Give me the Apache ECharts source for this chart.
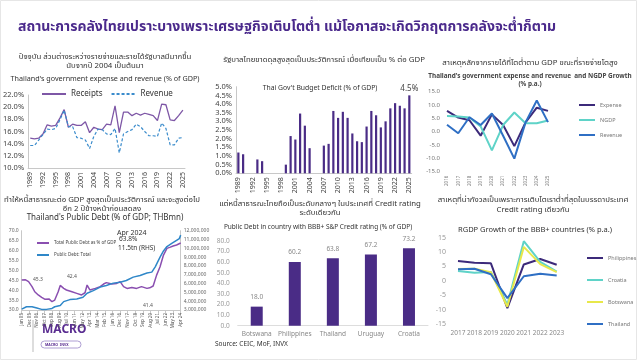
<!DOCTYPE html>
<html><head><meta charset="utf-8">
<script src="https://cdn.jsdelivr.net/npm/echarts@6/dist/echarts.min.js"></script>
<style>html,body{margin:0;padding:0;background:#fff}#c{width:640px;height:360px}</style>
</head><body><div id="c"></div>
<script>
const FONT = "'Noto Sans','Noto Sans Thai','Open Sans',sans-serif";

// ---------- Panel 1: expense & revenue (% of GDP)
const yearsLong = ['1989','1990','1991','1992','1993','1994','1995','1996','1997','1998','1999','2000','2001','2002','2003','2004','2005','2006','2007','2008','2009','2010','2011','2012','2013','2014','2015','2016','2017','2018','2019','2020','2021','2022','2023','2024','2025'];
const receipts = [14.9,14.8,14.9,15.6,17.1,16.9,17.0,18.2,19.6,16.7,17.2,17.0,17.0,17.6,15.8,16.7,16.4,16.3,17.2,17.1,20.2,15.8,19.2,19.2,18.6,19.0,18.7,19.0,18.8,18.6,17.8,20.5,20.4,17.9,17.8,18.6,19.5];
const revenueGdp = [13.7,13.7,14.6,15.5,16.4,16.3,16.5,17.9,19.5,16.8,16.8,15.0,14.9,14.6,13.2,15.2,16.4,16.3,15.6,15.5,16.5,12.5,15.6,16.0,16.3,17.2,16.8,16.0,15.3,15.3,15.2,17.4,16.5,13.8,13.8,14.9,15.0];

// ---------- Panel 2: budget deficit (% of GDP)
const deficit = [1.2,1.1,0,0,0.8,0.7,0,0,0,0,0.5,2.15,1.95,3.45,2.75,1.45,0,0,1.6,1.7,3.6,3.2,3.55,3.2,2.3,1.85,1.8,2.7,3.6,3.35,2.65,3.0,3.75,4.05,3.9,3.75,4.5];

// ---------- Panel 3: growth (% p.a.)
const growthYears = ['2016','2017','2018','2019','2020','2021','2022','2023','2024','2025'];
const expenseG = [7.8,5.3,4.3,-1.5,6.5,2.5,-5.4,3.5,9.0,7.8];
const ngdpG = [5.9,5.7,5.3,2.0,-7.0,2.5,7.2,3.2,3.2,4.2];
const revenueG = [2.6,-0.6,5.4,2.5,6.8,-1.5,-10.1,3.5,11.7,3.6];

// ---------- Panel 4: public debt (monthly, Jan 05 - Apr 24)
const monthNames = ['Jan','Feb','Mar','Apr','May','Jun','Jul','Aug','Sep','Oct','Nov','Dec'];
const debtStart = 2005, debtMonthCount = 232;
const debtPctIdx = [0,5,10,15,19,24,29,34,36,40,44,48,53,56,61,65,73,80,87,92,95,99,107,114,119,123,131,138,143,148,153,160,167,174,182,186,191,196,201,206,211,215,220,225,231];
const debtPctVal = [45.1,45.3,44.3,41.8,39.2,37.6,36.4,35.4,36.4,35.5,34.2,35.0,39.2,42.4,40.9,40.1,39.2,38.4,37.6,38.7,42.6,40.1,40.9,41.8,43.1,43.8,43.1,43.4,44.3,41.8,40.9,41.4,40.9,41.8,40.9,41.2,42.1,47.6,51.8,57.7,61.1,61.6,62.3,62.8,63.8];
const debtTotIdx = [0,7,15,22,29,36,44,48,56,61,70,80,89,95,104,114,123,133,143,152,162,172,182,189,194,201,206,211,218,225,229,231];
const debtTotVal = [3100000,3370000,3370000,3220000,3070000,3070000,3180000,3370000,3500000,3950000,4180000,4250000,4440000,4900000,5200000,5600000,5780000,6050000,6160000,6350000,6730000,6920000,7190000,7300000,7900000,9000000,9700000,10200000,10550000,10900000,11100000,11500000];

// ---------- Panel 5: BBB+ public debt
const countries = ['Botswana','Philippines','Thailand','Uruguay','Croatia'];
const debtBBB = [18.0,60.2,63.8,67.2,73.2];

// ---------- Panel 6: RGDP growth
const rgdpYears = ['2017','2018','2019','2020','2021','2022','2023'];
const philippines = [6.9,6.3,6.1,-9.5,5.7,7.6,5.6];
const croatia = [3.4,2.8,3.1,-8.3,13.8,6.6,3.2];
const botswana = [4.1,4.2,3.0,-9.0,11.8,5.8,3.0];
const thailand = [4.0,4.2,2.3,-6.0,1.6,2.5,1.9];

// month category labels
const debtMonths = [];
for (let i = 0; i < debtMonthCount; i++) {
  const y = debtStart + Math.floor(i / 12);
  debtMonths.push(monthNames[i % 12] + ' ' + String(y).slice(2));
}

const C = {
  title: '#4b2a8c', purple: '#7e57a6', dblue: '#3b8ccc', bar: '#4a2c86',
  indigo: '#3c2a7a', teal: '#5fd3c8', blue: '#2f6fc4', yellow: '#e8e84a',
  p4purple: '#8a4fb0', p4blue: '#2f87c8', axis: '#c8c8c8', lbl: '#555'
};

function lastLabel(arr, opts) {
  return arr.map((v, i) => i === arr.length - 1 ? {value: v, label: Object.assign({show: true, position: 'right', fontFamily: FONT}, opts)} : v);
}

const TH = 7.8;
const textItems = [
  ['สถานะการคลังไทยเปราะบางเพราะเศรษฐกิจเติบโตต่ำ แม้โอกาสจะเกิดวิกฤตการคลังจะต่ำก็ตาม', 18, 27, 14, 'bold', C.title, 'left'],
  ['ปัจจุบัน ส่วนต่างระหว่างรายจ่ายและรายได้รัฐบาลมีมากขึ้น', 105, 57, TH, 'normal', '#333', 'center'],
  ['นับจากปี 2004 เป็นต้นมา', 105, 65.5, TH, 'normal', '#333', 'center'],
  ["Thailand's government expense and revenue (% of GDP)", 105, 79, 7.2, 'normal', '#333', 'center'],
  ['รัฐบาลไทยขาดดุลสูงสุดเป็นประวัติการณ์ เมื่อเทียบเป็น % ต่อ GDP', 324, 60, TH, 'normal', '#333', 'center'],
  ["Thai Gov't Budget Deficit (% of GDP)", 320, 88, 6.8, 'normal', '#333', 'center'],
  ['สาเหตุหลักจากรายได้ที่โตต่ำตาม GDP ขณะที่รายจ่ายโตสูง', 530, 63, TH, 'normal', '#333', 'center'],
  ["Thailand's government expense and revenue  and NGDP Growth", 530, 76.5, 6.4, 'bold', '#444', 'center'],
  ['(% p.a.)', 530, 84.5, 6.4, 'bold', '#444', 'center'],
  ['ทำให้หนี้สาธารณะต่อ GDP สูงสุดเป็นประวัติการณ์ และจะสูงต่อไป', 102, 200, TH, 'normal', '#333', 'center'],
  ['อีก 2 ปีข้างหน้าก่อนลดลง', 102, 208.5, TH, 'normal', '#333', 'center'],
  ["Thailand's Public Debt (% of GDP; THBmn)", 105, 217.5, 8, 'normal', '#333', 'center'],
  ['แต่หนี้สาธารณะไทยถือเป็นระดับกลางๆ ในประเทศที่ Credit rating', 320, 204, TH, 'normal', '#333', 'center'],
  ['ระดับเดียวกัน', 320, 213, TH, 'normal', '#333', 'center'],
  ['Public Debt in country with BBB+ S&P Credit rating (% of GDP)', 318, 227, 6.5, 'normal', '#333', 'center'],
  ['สาเหตุที่น่ากังวลเป็นเพราะการเติบโตเราต่ำที่สุดในบรรดาประเทศ', 533, 200, TH, 'normal', '#333', 'center'],
  ['Credit rating เดียวกัน', 533, 209.5, TH, 'normal', '#333', 'center'],
  ['RGDP Growth of the BBB+ countries (% p.a.)', 535, 230, 7.5, 'normal', '#333', 'center'],
  ['Apr 2024', 117, 232.5, 7, 'normal', '#333', 'left'],
  ['63.8%', 119, 239.5, 6.5, 'normal', '#333', 'left'],
  ['11.5tn (RHS)', 118, 248.5, 6.5, 'normal', '#333', 'left'],
  ['45.3', 33, 280, 5, 'normal', '#555', 'left'],
  ['42.4', 67, 276.5, 5, 'normal', '#555', 'left'],
  ['41.4', 143, 306, 5, 'normal', '#555', 'left'],
  ['Source: CEIC, MoF, INVX', 215, 344, 6.5, 'normal', '#333', 'left']
];

const graphic = textItems.map(t => ({
  type: 'text', x: t[1], y: t[2], silent: true,
  style: {text: t[0], fill: t[5], font: t[4] + ' ' + t[3] + 'px ' + FONT, textAlign: t[6], textVerticalAlign: 'middle'}
}));
graphic.push(
  {type: 'line', shape: {x1: 33, y1: 320, x2: 33, y2: 352}, style: {stroke: '#bbb', lineWidth: 1}},
  {type: 'text', x: 42, y: 330, style: {text: 'MACRO', fill: '#5a2d91', font: 'bold 12px ' + FONT, textVerticalAlign: 'middle'}},
  {type: 'rect', shape: {x: 41, y: 341, width: 40, height: 7, r: 3.5}, style: {fill: '#fff', stroke: '#9a86c8', lineWidth: 0.8}},
  {type: 'text', x: 45, y: 344.5, style: {text: 'MACRO  INVX', fill: '#5a2d91', font: 'bold 3.5px ' + FONT, textVerticalAlign: 'middle'}},
  {type: 'rect', shape: {x: 0.5, y: 0.5, width: 636, height: 359}, style: {fill: 'none', stroke: '#e6e6e6', lineWidth: 1}, silent: true}
);

const axLabel = (size, color, extra) => Object.assign({fontSize: size, color: color, fontFamily: FONT}, extra || {});
const noSym = {opacity: 0};

const option = {
  animation: false,
  backgroundColor: '#fff',
  textStyle: {fontFamily: FONT},
  graphic: graphic,
  grid: [
    {left: 27, top: 95, width: 158, height: 73},
    {left: 236, top: 86.7, width: 175.7, height: 86.6},
    {left: 447, top: 91.7, width: 101, height: 80},
    {left: 21.7, top: 230.7, width: 159, height: 79.3},
    {left: 237.7, top: 241, width: 190.3, height: 84.7},
    {left: 458, top: 237.7, width: 98.7, height: 86.3}
  ],
  legend: [
    {data: ['Receipts', 'Revenue'], left: 36, top: 85, itemWidth: 24, itemHeight: 8, itemGap: 8, itemStyle: noSym,
     textStyle: {fontSize: 8, color: '#333', fontFamily: FONT}},
    {data: ['Expense', 'NGDP', 'Revenue '], orient: 'vertical', left: 573, top: 97, itemWidth: 16, itemHeight: 6, itemGap: 9, itemStyle: noSym,
     textStyle: {fontSize: 5.5, color: '#777', fontFamily: FONT}},
    {data: ['Total Public Debt as % of GDP', 'Public Debt: Total'], orient: 'vertical', left: 31, top: 235.5, itemWidth: 12, itemHeight: 5, itemGap: 7, itemStyle: noSym,
     textStyle: {fontSize: 4.5, color: '#444', fontFamily: FONT}},
    {data: ['Philippines', 'Croatia', 'Botswana', 'Thailand'], orient: 'vertical', left: 581, top: 250, itemWidth: 16, itemHeight: 6, itemGap: 16, itemStyle: noSym,
     textStyle: {fontSize: 5.5, color: '#777', fontFamily: FONT}}
  ],
  xAxis: [
    {type: 'category', gridIndex: 0, data: yearsLong, boundaryGap: true,
     axisLine: {lineStyle: {color: C.axis}}, axisTick: {interval: 2, lineStyle: {color: C.axis}},
     axisLabel: axLabel(7, '#444', {interval: 2, rotate: 90, margin: 4})},
    {type: 'category', gridIndex: 1, data: yearsLong, boundaryGap: true,
     axisLine: {lineStyle: {color: C.axis}}, axisTick: {interval: 2, lineStyle: {color: C.axis}},
     axisLabel: axLabel(7, '#444', {interval: 2, rotate: 90, margin: 4})},
    {type: 'category', gridIndex: 2, data: growthYears, boundaryGap: false,
     axisLine: {show: false}, axisTick: {show: false},
     axisLabel: axLabel(4.5, '#777', {rotate: 90, margin: 4, interval: 0})},
    {type: 'category', gridIndex: 3, data: debtMonths, boundaryGap: false,
     axisLine: {lineStyle: {color: C.axis}}, axisTick: {interval: 10, lineStyle: {color: C.axis}},
     axisLabel: axLabel(4.5, '#555', {interval: 10, rotate: 90, margin: 3})},
    {type: 'category', gridIndex: 4, data: countries,
     axisLine: {lineStyle: {color: '#ddd'}}, axisTick: {show: false},
     axisLabel: axLabel(6.5, '#888', {margin: 5, interval: 0})},
    {type: 'category', gridIndex: 5, data: rgdpYears, boundaryGap: false,
     axisLine: {show: false}, axisTick: {show: false},
     axisLabel: axLabel(6.5, '#888', {margin: 6, interval: 0})}
  ],
  yAxis: [
    {type: 'value', gridIndex: 0, min: 10, max: 22, interval: 2, splitLine: {show: false},
     axisLine: {show: true, lineStyle: {color: C.axis}},
     axisLabel: axLabel(7.5, '#444', {formatter: v => v.toFixed(1) + '%', margin: 4})},
    {type: 'value', gridIndex: 1, min: 0, max: 5, interval: 0.5, splitLine: {show: false},
     axisLine: {show: true, lineStyle: {color: C.axis}},
     axisLabel: axLabel(7.5, '#444', {formatter: v => v.toFixed(1) + '%', margin: 4})},
    {type: 'value', gridIndex: 2, min: -15, max: 15, interval: 5, splitLine: {show: false},
     axisLine: {show: false},
     axisLabel: axLabel(6, '#777', {formatter: v => v.toFixed(1), margin: 7})},
    {type: 'value', gridIndex: 3, min: 30, max: 70, interval: 5, splitLine: {show: false},
     axisLine: {show: true, lineStyle: {color: C.axis}},
     axisLabel: axLabel(5, '#666', {formatter: v => v.toFixed(1), margin: 3})},
    {type: 'value', gridIndex: 3, position: 'right', min: 3000000, max: 12000000, interval: 1000000, splitLine: {show: false},
     axisLine: {show: true, lineStyle: {color: C.axis}},
     axisLabel: axLabel(5, '#666', {formatter: v => v.toLocaleString('en-US'), margin: 3})},
    {type: 'value', gridIndex: 4, min: 0, max: 80, interval: 10, splitLine: {show: false},
     axisLine: {show: false},
     axisLabel: axLabel(6.5, '#999', {formatter: v => v.toFixed(1), margin: 8})},
    {type: 'value', gridIndex: 5, min: -15, max: 15, interval: 5, splitLine: {show: false},
     axisLine: {show: false},
     axisLabel: axLabel(7, '#999', {margin: 12})}
  ],
  series: [
    {name: 'Receipts', type: 'line', xAxisIndex: 0, yAxisIndex: 0, symbol: 'none',
     lineStyle: {color: C.purple, width: 1.3}, itemStyle: {color: C.purple},
     data: lastLabel(receipts, {formatter: p => p.value.toFixed(1) + '%', fontSize: 7.5, color: '#555', distance: 2})},
    {name: 'Revenue', type: 'line', xAxisIndex: 0, yAxisIndex: 0, symbol: 'none',
     lineStyle: {color: C.dblue, width: 1.2, type: [3, 2]}, itemStyle: {color: C.dblue},
     data: lastLabel(revenueGdp, {formatter: p => p.value.toFixed(1) + '%', fontSize: 7.5, color: '#555', distance: 2, offset: [0, 4]})},
    {name: 'Deficit', type: 'bar', xAxisIndex: 1, yAxisIndex: 1, barWidth: 2.2,
     itemStyle: {color: C.bar},
     data: deficit.map((v, i) => i === deficit.length - 1 ? {value: v, label: {show: true, position: 'top', formatter: p => p.value.toFixed(1) + '%', fontSize: 8, color: '#444', distance: 3}} : v)},
    {name: 'Expense', type: 'line', xAxisIndex: 2, yAxisIndex: 2, symbol: 'none',
     lineStyle: {color: C.indigo, width: 2}, itemStyle: {color: C.indigo},
     data: lastLabel(expenseG, {formatter: p => p.value.toFixed(1), fontSize: 6.5, color: '#555', distance: 8})},
    {name: 'NGDP', type: 'line', xAxisIndex: 2, yAxisIndex: 2, symbol: 'none',
     lineStyle: {color: C.teal, width: 2}, itemStyle: {color: C.teal},
     data: lastLabel(ngdpG, {formatter: p => p.value.toFixed(1), fontSize: 6.5, color: '#555', distance: 8})},
    {name: 'Revenue ', type: 'line', xAxisIndex: 2, yAxisIndex: 2, symbol: 'none',
     lineStyle: {color: C.blue, width: 2}, itemStyle: {color: C.blue},
     data: lastLabel(revenueG, {formatter: p => p.value.toFixed(1), fontSize: 6.5, color: '#555', distance: 8, offset: [0, 7]})},
    {name: 'Total Public Debt as % of GDP', type: 'line', xAxisIndex: 3, yAxisIndex: 3, symbol: 'none',
     lineStyle: {color: C.p4purple, width: 1.5}, itemStyle: {color: C.p4purple},
     data: debtPctIdx.map((m, i) => [debtMonths[m], debtPctVal[i]])},
    {name: 'Public Debt: Total', type: 'line', xAxisIndex: 3, yAxisIndex: 4, symbol: 'none',
     lineStyle: {color: C.p4blue, width: 1.5}, itemStyle: {color: C.p4blue},
     data: debtTotIdx.map((m, i) => [debtMonths[m], debtTotVal[i]])},
    {name: 'BBB+ debt', type: 'bar', xAxisIndex: 4, yAxisIndex: 5, barWidth: 12,
     itemStyle: {color: C.bar},
     label: {show: true, position: 'top', formatter: p => p.value.toFixed(1), fontSize: 6.5, color: '#888', distance: 6},
     data: debtBBB},
    {name: 'Philippines', type: 'line', xAxisIndex: 5, yAxisIndex: 6, symbol: 'none',
     lineStyle: {color: C.indigo, width: 2}, itemStyle: {color: C.indigo},
     data: lastLabel(philippines, {formatter: p => p.value.toFixed(1), fontSize: 7, color: '#555', distance: 4})},
    {name: 'Croatia', type: 'line', xAxisIndex: 5, yAxisIndex: 6, symbol: 'none',
     lineStyle: {color: C.teal, width: 2}, itemStyle: {color: C.teal},
     data: lastLabel(croatia, {formatter: p => p.value.toFixed(1), fontSize: 7, color: '#555', distance: 4})},
    {name: 'Botswana', type: 'line', xAxisIndex: 5, yAxisIndex: 6, symbol: 'none',
     lineStyle: {color: C.yellow, width: 2}, itemStyle: {color: C.yellow},
     data: botswana},
    {name: 'Thailand', type: 'line', xAxisIndex: 5, yAxisIndex: 6, symbol: 'none',
     lineStyle: {color: C.blue, width: 2}, itemStyle: {color: C.blue},
     data: lastLabel(thailand, {formatter: p => p.value.toFixed(1), fontSize: 7, color: '#555', distance: 4, offset: [0, 5]})}
  ]
};

const chart = echarts.init(document.getElementById('c'), null, {renderer: 'canvas', width: 640, height: 360});
chart.setOption(option);
</script>
</body></html>
